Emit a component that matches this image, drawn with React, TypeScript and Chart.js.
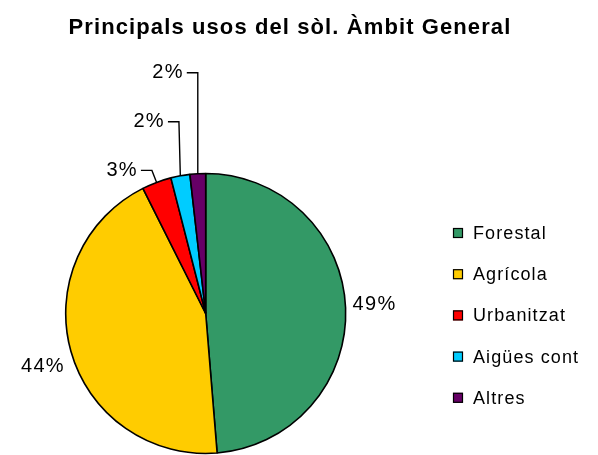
import React, { useEffect, useRef } from 'react';
import { Chart, registerables } from 'chart.js';
Chart.register(...registerables);

const TITLE = 'Principals usos del sòl. Àmbit General';
const categories = ['Forestal', 'Agrícola', 'Urbanitzat', 'Aigües cont', 'Altres'];
const values = [48.7, 43.9, 3.4, 2.2, 1.8];
const colors = ['#339966', '#FFCC00', '#FF0000', '#00CCFF', '#660066'];

const FONT = '"Liberation Sans", Arial, sans-serif';

const decorPlugin = {
  id: 'decor',
  afterDraw(chart: any) {
    const ctx = chart.ctx as CanvasRenderingContext2D;
    const total = values.reduce((a, b) => a + b, 0);
    ctx.save();
    // title
    ctx.fillStyle = '#000';
    ctx.font = `bold 22px ${FONT}`;
    (ctx as any).letterSpacing = '1.1px';
    ctx.textAlign = 'center';
    ctx.textBaseline = 'alphabetic';
    ctx.fillText(TITLE, 290, 34);

    // data labels
    ctx.font = `20px ${FONT}`;
    (ctx as any).letterSpacing = '1.3px';
    ctx.textBaseline = 'middle';
    ctx.strokeStyle = '#000';
    ctx.lineWidth = 1.4;
    const rise = [0, 0, 12, 54, 101];
    const meta = chart.getDatasetMeta(0);
    meta.data.forEach((arc: any, i: number) => {
      const p = arc.getProps(['x', 'y', 'startAngle', 'endAngle', 'outerRadius'], true);
      const mid = (p.startAngle + p.endAngle) / 2;
      const ex = p.x + Math.cos(mid) * p.outerRadius;
      const ey = p.y + Math.sin(mid) * p.outerRadius;
      const txt = Math.round((values[i] / total) * 100) + '%';
      if (i === 0) {
        ctx.textAlign = 'left';
        ctx.fillText(txt, ex + 7, ey - 3);
      } else if (i === 1) {
        ctx.textAlign = 'right';
        ctx.fillText(txt, ex - 6, ey + 15);
      } else {
        const elbowX = ex - (i === 2 ? 4.7 : i === 3 ? 1.4 : 0);
        const elbowY = ey - rise[i];
        const endX = elbowX - 11;
        ctx.beginPath();
        ctx.moveTo(ex, ey);
        ctx.lineTo(elbowX, elbowY);
        ctx.lineTo(endX, elbowY);
        ctx.stroke();
        ctx.textAlign = 'right';
        ctx.fillText(txt, endX - 3, elbowY);
      }
    });

    // legend
    ctx.font = `18px ${FONT}`;
    (ctx as any).letterSpacing = '1.1px';
    ctx.textAlign = 'left';
    ctx.textBaseline = 'middle';
    ctx.lineWidth = 1.2;
    categories.forEach((c, i) => {
      const cy = 233 + i * 41.2;
      ctx.fillStyle = colors[i];
      ctx.fillRect(453, cy - 5, 10, 10);
      ctx.strokeStyle = '#000';
      ctx.strokeRect(453.5, cy - 4.5, 9, 9);
      ctx.fillStyle = '#000';
      ctx.fillText(c, 473, cy + 1);
    });
    ctx.restore();
  },
};

export default function App() {
  const ref = useRef<HTMLCanvasElement | null>(null);
  useEffect(() => {
    if (!ref.current) return;
    const chart = new Chart(ref.current, {
      type: 'pie',
      data: {
        labels: categories,
        datasets: [
          {
            data: values,
            backgroundColor: colors,
            borderColor: '#000',
            borderWidth: 1.6,
            radius: 140,
          } as any,
        ],
      },
      options: {
        responsive: false,
        animation: false,
        events: [],
        layout: { padding: { left: 0, right: 186.6, top: 172, bottom: 0 } },
        plugins: {
          legend: { display: false },
          tooltip: { enabled: false },
          title: { display: false },
        },
      },
      plugins: [decorPlugin],
    });
    return () => chart.destroy();
  }, []);
  return (
    <div style={{ position: 'fixed', left: 0, top: 0, width: 598, height: 455, background: '#fff' }}>
      <canvas ref={ref} width={598} height={455} style={{ width: 598, height: 455 }} />
    </div>
  );
}
